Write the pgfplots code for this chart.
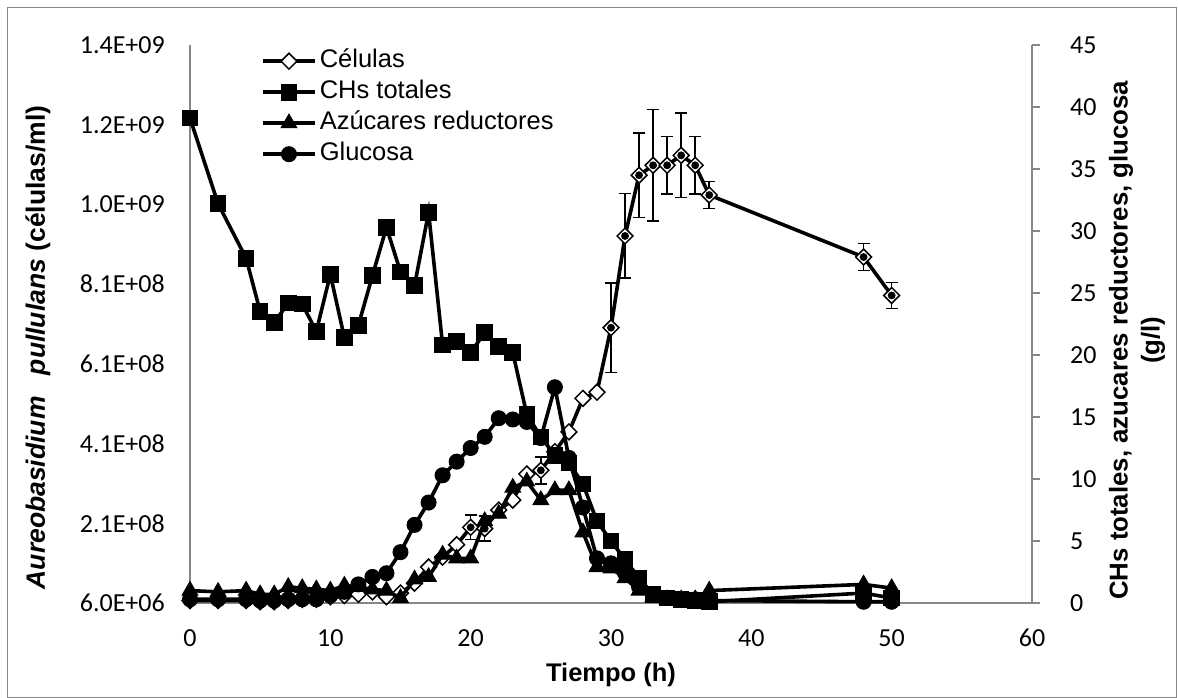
\documentclass[border=0pt]{standalone}
\usepackage{fontspec}
\setmainfont{Liberation Sans}
\newfontfamily\calfont{Carlito}
\usepackage{pgfplots}
\usepackage{pgfplotstable}
\pgfplotsset{compat=1.18}
\definecolor{axgray}{RGB}{134,134,134}

\pgfplotstableread{
t    chs   az   glu
0    39.1  1.0  0.3
2    32.2  0.9  0.3
4    27.8  1.0  0.3
5    23.5  0.7  0.2
6    22.6  0.7  0.2
7    24.2  1.3  0.3
8    24.1  1.2  0.3
9    21.9  1.1  0.3
10   26.5  1.0  0.6
11   21.4  1.4  0.9
12   22.4  1.3  1.5
13   26.4  1.1  2.1
14   30.3  1.0  2.4
15   26.7  0.4  4.1
16   25.6  1.9  6.3
17   31.5  2.1  8.1
18   20.8  3.9  10.3
19   21.1  3.6  11.4
20   20.2  3.6  12.5
21   21.8  6.6  13.4
22   20.7  7.2  14.9
23   20.2  9.3  14.8
24   15.2  9.8  14.6
25   13.4  8.3  13.3
26   11.9  9.1  17.4
27   11.3  9.1  11.7
28   9.6   5.7  7.7
29   6.6   2.9  3.6
30   5.0   2.8  3.2
31   3.5   2.0  2.4
32   2.0   1.0  1.3
33   0.7   0.5  0.7
34   0.4   0.3  0.4
35   0.3   0.3  0.3
36   0.2   0.3  0.3
37   0.1   1.0  0.2
48   0.8   1.5  0.1
50   0.4   1.2  0.1
}\gltable

\pgfplotstableread{
t    c
0    1.22e7
2    1.22e7
4    1.22e7
5    9.1e6
6    9.1e6
7    1.22e7
8    1.53e7
9    1.53e7
10   2.16e7
11   2.47e7
12   2.78e7
13   3.40e7
14   2.16e7
15   3.09e7
16   5.58e7
17   9.62e7
18   1.211e8
19   1.522e8
20   1.958e8
21   1.927e8
22   2.393e8
23   2.642e8
24   3.296e8
25   3.389e8
26   3.856e8
27   4.353e8
28   5.193e8
29   5.349e8
30   6.967e8
31   9.269e8
32   1.0793e9
33   1.1042e9
34   1.1042e9
35   1.1291e9
36   1.1042e9
37   1.0296e9
48   8.740e8
50   7.776e8
}\celltable

\pgfplotstableread{
t    c        e
20   1.958e8  3.1e7
21   1.927e8  3.1e7
25   3.389e8  3.4e7
30   6.967e8  1.12e8
31   9.269e8  1.06e8
32   1.0793e9 1.06e8
33   1.1042e9 1.40e8
34   1.1042e9 7.2e7
35   1.1291e9 1.06e8
36   1.1042e9 7.2e7
37   1.0296e9 3.4e7
48   8.740e8  3.4e7
50   7.776e8  3.3e7
}\errtable

\begin{document}
\begin{tikzpicture}[x=1pt,y=1pt]
\useasboundingbox (0,0) rectangle (1178,698);
\draw[axgray, line width=1pt] (7,0.5) rectangle (1176.5,690);

% left axis: cells (drawn first, below)
\begin{axis}[
  at={(190pt,95pt)}, anchor=south west,
  scale only axis, width=842pt, height=558pt,
  xmin=0, xmax=60, ymin=6e6, ymax=1.406e9,
  clip=false,
  axis x line*=bottom, axis y line*=left,
  axis line style={axgray, line width=1.25pt},
  major tick length=0pt,
  scaled y ticks=false,
  xtick={0,10,20,30,40,50,60},
  xticklabels={0,10,20,30,40,50,60},
  ytick={6e6,2.06e8,4.06e8,6.06e8,8.06e8,1.006e9,1.206e9,1.406e9},
  yticklabels={6.0E+06,2.1E+08,4.1E+08,6.1E+08,8.1E+08,1.0E+09,1.2E+09,1.4E+09},
  xticklabel style={font=\calfont\fontsize{26}{30}\selectfont, anchor=center, yshift=-35pt},
  yticklabel style={font=\calfont\fontsize{26}{30}\selectfont, anchor=east, inner sep=0pt, xshift=-25pt},
  xlabel={Tiempo (h)},
  xlabel style={font=\bfseries\fontsize{25.5}{30}\selectfont, at={(axis description cs:0.5,-0.129)}, anchor=center},
  ylabel={\textit{Aureobasidium}\hspace{0.8em}\textit{pullulans} (células/ml)},
  ylabel style={font=\bfseries\fontsize{26.5}{30}\selectfont, at={(axis description cs:-0.1805,0.458)}, anchor=center},
  every axis plot/.append style={line width=3.6pt, black},
  legend style={draw=none, fill=none, font=\fontsize{25.5}{30}\selectfont,
    at={(axis description cs:0.0843,0.9973)}, anchor=north west,
    inner xsep=0pt, inner ysep=0pt, row sep=2pt, column sep=1pt,
    nodes={inner sep=2pt, text height=19pt, text depth=6pt}},
  legend cell align=left,
  legend image code/.code={\draw[mark repeat=2,mark phase=2] plot coordinates {(0pt,0pt) (26pt,0pt) (52pt,0pt)};},
]
\addplot[mark=square*, mark size=5.6pt, mark options={rotate=45, fill=white, draw=black, line width=1.5pt, solid}] table[x=t, y=c] {\celltable};
\addlegendentry{Células}
\addlegendimage{line width=3.6pt, black, mark=square*, mark size=7.8pt, mark options={line width=1pt, solid}}
\addlegendentry{CHs totales}
\addlegendimage{line width=3.6pt, black, mark=triangle*, mark size=9pt, mark options={line width=1pt, solid}}
\addlegendentry{Azúcares reductores}
\addlegendimage{line width=3.6pt, black, mark=*, mark size=7.5pt, mark options={line width=1pt, solid}}
\addlegendentry{Glucosa}
\addplot[forget plot, black, only marks, mark=none,
  error bars/.cd, y dir=both, y explicit,
  error bar style={line width=1.5pt, black},
  error mark options={rotate=90, mark size=6pt, line width=1.5pt, black}]
  table[x=t, y=c, y error=e] {\errtable};
\end{axis}

% right axis: g/l (drawn on top)
\begin{axis}[
  at={(190pt,95pt)}, anchor=south west,
  scale only axis, width=842pt, height=558pt,
  xmin=0, xmax=60, ymin=0, ymax=45,
  clip=false,
  axis x line=none, axis y line*=right,
  axis line style={axgray, line width=1.25pt},
  ytick={0,5,10,15,20,25,30,35,40,45},
  yticklabels={0,5,10,15,20,25,30,35,40,45},
  tick align=outside, major tick length=8pt,
  ytick style={axgray, line width=1.25pt},
  yticklabel style={font=\calfont\fontsize{26}{30}\selectfont, anchor=west, inner sep=0pt, xshift=30pt},
  ylabel={CHs totales, azucares reductores, glucosa\\(g/l)},
  ylabel style={font=\bfseries\fontsize{25.8}{32}\selectfont, align=center,
    at={(axis description cs:1.1247,0.471)}, anchor=center},
  every axis plot/.append style={line width=3.6pt, black},
]
\addplot[mark=square*, mark size=7.8pt, mark options={line width=1pt, solid}] table[x=t, y=chs] {\gltable};
\addplot[mark=triangle*, mark size=9pt, mark options={line width=1pt, solid}] table[x=t, y=az] {\gltable};
\addplot[mark=*, mark size=7.5pt, mark options={line width=1pt, solid}] table[x=t, y=glu] {\gltable};
\end{axis}
\end{tikzpicture}
\end{document}
